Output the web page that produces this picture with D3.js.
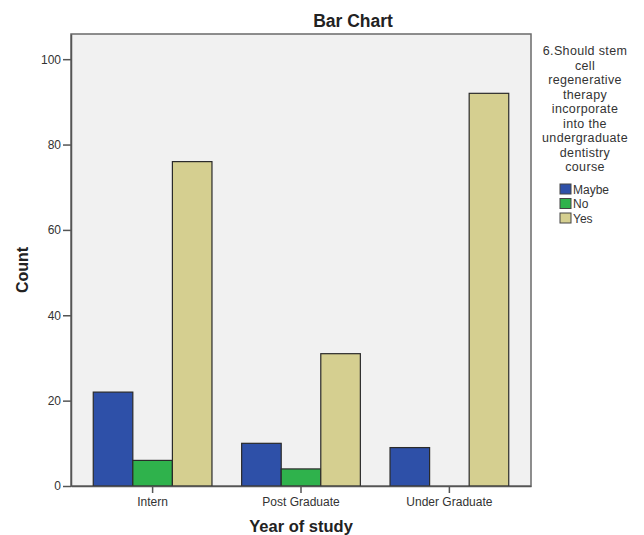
<!DOCTYPE html>
<html>
<head>
<meta charset="utf-8">
<script src="https://cdn.jsdelivr.net/npm/d3@7"></script>
<style>
  html, body { margin: 0; padding: 0; background: #fff; }
  svg { display: block; font-family: Arial, "Liberation Sans", sans-serif; }
</style>
</head>
<body>
<svg id="chart" width="644" height="535"></svg>
<script>
// ---- data ----
const categories = ["Intern", "Post Graduate", "Under Graduate"];
const seriesNames = ["Maybe", "No", "Yes"];
const maybeValues = [22, 10, 9];
const noValues = [6, 4, 0];
const yesValues = [76, 31, 92];
const yTicks = [0, 20, 40, 60, 80, 100];
const legendTitleLines = ["6.Should stem", "cell", "regenerative", "therapy", "incorporate", "into the", "undergraduate", "dentistry", "course"];
const seriesColors = ["#2e50a8", "#2fb24c", "#d5cf90"];

const seriesValues = [maybeValues, noValues, yesValues];

const svg = d3.select("#chart");
const plot = { left: 71, right: 531, top: 34, bottom: 486 };

const x = d3.scaleBand().domain(categories).range([plot.left, plot.right])
  .paddingInner(0.2).paddingOuter(0.15);
const xSub = d3.scaleBand().domain(seriesNames).range([0, x.bandwidth()]).padding(0);
const y = d3.scaleLinear().domain([0, 105.9]).range([plot.bottom, plot.top]);

// plot background
svg.append("rect")
  .attr("x", plot.left).attr("y", plot.top)
  .attr("width", plot.right - plot.left).attr("height", plot.bottom - plot.top)
  .attr("fill", "#f1f1f1").attr("stroke", "#6a6a6a").attr("stroke-width", 1.5);

// bars
const rows = [];
categories.forEach((c, i) => {
  seriesNames.forEach((s, j) => {
    rows.push({ cat: c, series: s, value: seriesValues[j][i], color: seriesColors[j] });
  });
});
svg.append("g").selectAll("rect")
  .data(rows.filter(d => d.value > 0))
  .join("rect")
  .attr("x", d => x(d.cat) + xSub(d.series))
  .attr("y", d => y(d.value))
  .attr("width", xSub.bandwidth())
  .attr("height", d => y(0) - y(d.value))
  .attr("fill", d => d.color)
  .attr("stroke", "#2a2a2a")
  .attr("stroke-width", 1.2);

// y axis
const yAxis = d3.axisLeft(y).tickValues(yTicks).tickSize(8).tickSizeOuter(0).tickPadding(2).tickFormat(d3.format("d"));
const gy = svg.append("g").attr("transform", `translate(${plot.left},0)`).call(yAxis);
gy.select(".domain").attr("stroke", "#555").attr("stroke-width", 1.5);
gy.selectAll(".tick line").attr("stroke", "#555").attr("stroke-width", 1.5);
gy.selectAll(".tick text").attr("font-size", 12).attr("fill", "#333").attr("font-family", "Arial, 'Liberation Sans', sans-serif");

// x axis
const xAxis = d3.axisBottom(x).tickSize(7).tickSizeOuter(0).tickPadding(4);
const gx = svg.append("g").attr("transform", `translate(0,${plot.bottom})`).call(xAxis);
gx.select(".domain").attr("stroke", "#555").attr("stroke-width", 1.5);
gx.selectAll(".tick line").attr("stroke", "#555").attr("stroke-width", 1.5);
gx.selectAll(".tick text").attr("font-size", 12).attr("fill", "#333").attr("font-family", "Arial, 'Liberation Sans', sans-serif");

// titles
svg.append("text").attr("x", 353).attr("y", 27).attr("text-anchor", "middle")
  .attr("font-size", 17.5).attr("font-weight", "bold").attr("fill", "#222").text("Bar Chart");
svg.append("text").attr("x", 301).attr("y", 532).attr("text-anchor", "middle")
  .attr("font-size", 16.5).attr("font-weight", "bold").attr("fill", "#222").text("Year of study");
svg.append("text").attr("transform", "translate(28,270) rotate(-90)").attr("text-anchor", "middle")
  .attr("font-size", 16).attr("font-weight", "bold").attr("fill", "#222").text("Count");

// legend
const lt = svg.append("text").attr("text-anchor", "middle").attr("font-size", 12.5)
  .attr("letter-spacing", 0.35).attr("fill", "#333");
legendTitleLines.forEach((line, i) => {
  lt.append("tspan").attr("x", 585).attr("y", 55 + i * 14.5).text(line);
});
const lg = svg.append("g").attr("transform", "translate(560,184)");
seriesNames.forEach((s, i) => {
  const g = lg.append("g").attr("transform", `translate(0,${i * 14.5})`);
  g.append("rect").attr("width", 11).attr("height", 10)
    .attr("fill", seriesColors[i]).attr("stroke", "#444").attr("stroke-width", 1);
  g.append("text").attr("x", 13).attr("y", 9.5).attr("font-size", 12).attr("fill", "#333").text(s);
});
</script>
</body>
</html>
